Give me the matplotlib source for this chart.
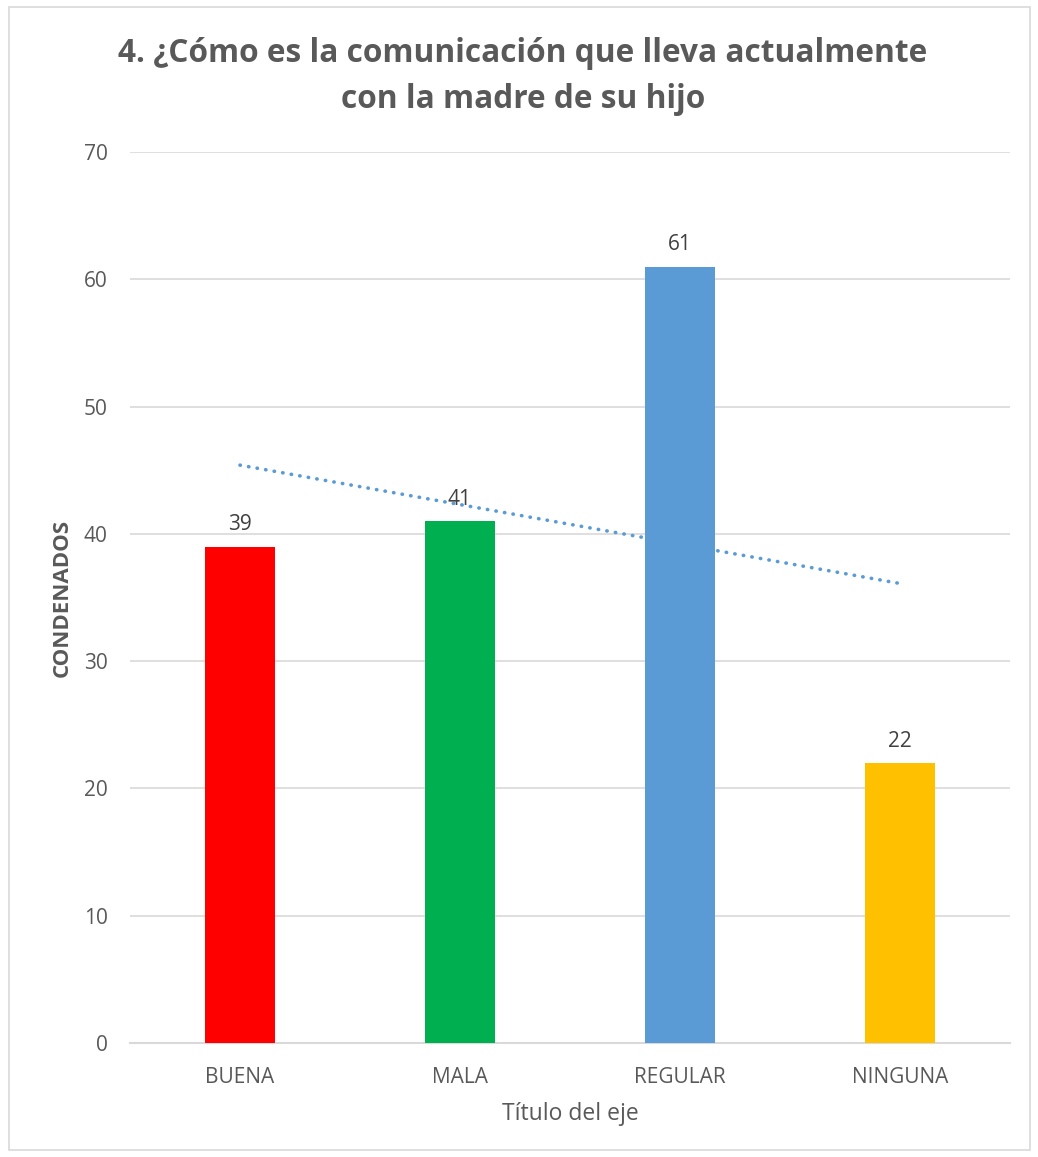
import numpy as np
import matplotlib.pyplot as plt
from matplotlib.patches import Rectangle

categories = ['BUENA', 'MALA', 'REGULAR', 'NINGUNA']
counts = [39, 41, 61, 22]
bar_colors = ['#FF0000', '#00B050', '#5B9BD5', '#FFC000']
y_ticks = [0, 10, 20, 30, 40, 50, 60, 70]

plt.rcParams['font.family'] = ['Open Sans', 'DejaVu Sans']
gray = '#595959'

fig = plt.figure(figsize=(10.38, 11.57), dpi=100)
W, H = 1038, 1157
ax = fig.add_axes([130 / W, 1 - 1043 / H, 880 / W, (1043 - 152) / H])

x = np.arange(len(categories))
ax.bar(x, counts, width=0.32, color=bar_colors, zorder=3)

# linear trend line, drawn behind the bars
coef = np.polyfit(x, counts, 1)
ax.plot(x, np.polyval(coef, x), color='#5B9BD5', lw=2.6,
        linestyle=(0, (0.1, 2.3)), dash_capstyle='round', zorder=2)

for xi, v in zip(x, counts):
    ax.annotate(str(v), (xi, v), xytext=(0, 8), textcoords='offset points',
                ha='center', va='bottom', fontsize=15, color='#404040')

ax.set_xlim(-0.5, len(categories) - 0.5)
ax.set_ylim(0, 70)
ax.set_yticks(y_ticks)
ax.set_xticks(x)
ax.set_xticklabels(categories)
ax.tick_params(axis='both', length=0, labelsize=15, labelcolor=gray)
ax.tick_params(axis='y', pad=16)
ax.tick_params(axis='x', pad=17)
ax.grid(axis='y', color='#D9D9D9', lw=1.2, zorder=0)
for s in ['left', 'right', 'top']:
    ax.spines[s].set_visible(False)
ax.spines['bottom'].set_color('#D9D9D9')
ax.spines['bottom'].set_linewidth(1.5)

ax.set_xlabel('Título del eje', fontsize=16.5, color=gray, labelpad=10)
ax.set_ylabel('CONDENADOS', fontsize=16, color=gray, fontweight='bold', labelpad=8)

fig.text(523 / W, 1 - 53 / H, '4. ¿Cómo es la comunicación que lleva actualmente',
         ha='center', va='center', fontsize=22.8, fontweight='bold', color=gray)
fig.text(523 / W, 1 - 100 / H, 'con la madre de su hijo',
         ha='center', va='center', fontsize=22.8, fontweight='bold', color=gray)

fig.add_artist(Rectangle((9 / W, 1 - 1150 / H), 1021 / W, 1143 / H,
                         transform=fig.transFigure, fill=False,
                         edgecolor='#D9D9D9', lw=1.2))

fig.savefig('out.png', dpi=100)
